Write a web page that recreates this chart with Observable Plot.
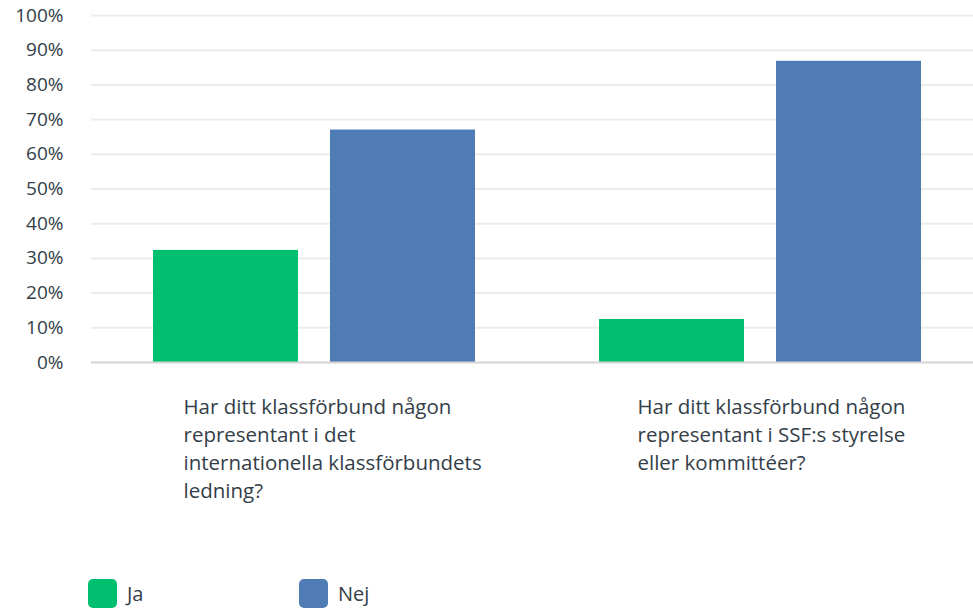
<!DOCTYPE html>
<html>
<head>
<meta charset="utf-8">
<script src="https://cdn.jsdelivr.net/npm/d3@7"></script>
<script src="https://cdn.jsdelivr.net/npm/@observablehq/plot@0.6"></script>
<style>
  html, body { margin: 0; padding: 0; background: #fff; overflow: hidden; }
  #wrap { position: relative; width: 973px; height: 612px; overflow: hidden; font-family: "Open Sans", sans-serif; }
  #chart { position: absolute; left: 0; top: 0; }
  #chart svg { max-width: none !important; }
  #legend { position: absolute; left: 88px; top: 579px; display: flex; }
  .item { display: flex; align-items: center; width: 211px; font-size: 20px; color: #333e48; }
  .sw { width: 29px; height: 29px; border-radius: 5px; margin-right: 10px; box-sizing: border-box; }
</style>
</head>
<body>
<div id="wrap">
  <div id="chart"></div>
  <div id="legend"></div>
</div>
<script>
const questions = [
  "Har ditt klassförbund någon representant i det internationella klassförbundets ledning?",
  "Har ditt klassförbund någon representant i SSF:s styrelse eller kommittéer?"
];
const questionLabels = [
  "Har ditt klassförbund någon\nrepresentant i det\ninternationella klassförbundets\nledning?",
  "Har ditt klassförbund någon\nrepresentant i SSF:s styrelse\neller kommittéer?"
];
const answers = ["Ja", "Nej"];
const jaValues = [32.3, 12.4];
const nejValues = [67.0, 86.8];
const yTicks = [0, 10, 20, 30, 40, 50, 60, 70, 80, 90, 100];
const colors = ["#00bf6f", "#507cb6"];

const data = [];
questions.forEach((q, i) => {
  data.push({question: q, answer: "Ja", value: jaValues[i]});
  data.push({question: q, answer: "Nej", value: nejValues[i]});
});

const textColor = "#333e48";

const chart = Plot.plot({
  width: 983,
  height: 520,
  marginTop: 15,
  marginBottom: 158,
  marginLeft: 91,
  marginRight: 0,
  style: {fontFamily: "'Open Sans', sans-serif", background: "transparent", overflow: "visible", maxWidth: "none"},
  fx: {domain: questions, padding: 0, axis: null, label: null},
  x: {domain: answers, paddingInner: 0.18, paddingOuter: 0.343, axis: null, label: null},
  y: {domain: [0, 100], axis: null, label: null},
  color: {domain: answers, range: colors},
  marks: [
    Plot.gridY(yTicks.slice(1), {stroke: "#ececec", strokeOpacity: 1, strokeWidth: 2}),
    Plot.barY(data, {fx: "question", x: "answer", y: "value", fill: "answer"}),
    Plot.ruleY([0], {stroke: "#d3d3d3", strokeWidth: 2}),
    Plot.axisY({
      ticks: yTicks,
      tickFormat: d => d + "%",
      tickSize: 0,
      tickPadding: 28,
      line: true,
      label: null,
      stroke: "#d3d3d3",
      strokeWidth: 2,
      fill: textColor,
      fontSize: 19
    }),
    Plot.text([questions[0]], {
      fx: d => d, text: () => questionLabels[0],
      frameAnchor: "bottom-left", textAnchor: "start", lineAnchor: "top",
      dx: 92, dy: 31, fontSize: 20.5, lineHeight: 1.38, fill: textColor
    }),
    Plot.text([questions[1]], {
      fx: d => d, text: () => questionLabels[1],
      frameAnchor: "bottom-left", textAnchor: "start", lineAnchor: "top",
      dx: 100, dy: 31, fontSize: 20.5, lineHeight: 1.38, fill: textColor
    })
  ]
});
document.getElementById("chart").appendChild(chart);

const legend = document.getElementById("legend");
answers.forEach((a, i) => {
  const item = document.createElement("div");
  item.className = "item";
  const sw = document.createElement("div");
  sw.className = "sw";
  sw.style.background = colors[i];
  const label = document.createElement("span");
  label.textContent = a;
  item.appendChild(sw);
  item.appendChild(label);
  legend.appendChild(item);
});
</script>
</body>
</html>
